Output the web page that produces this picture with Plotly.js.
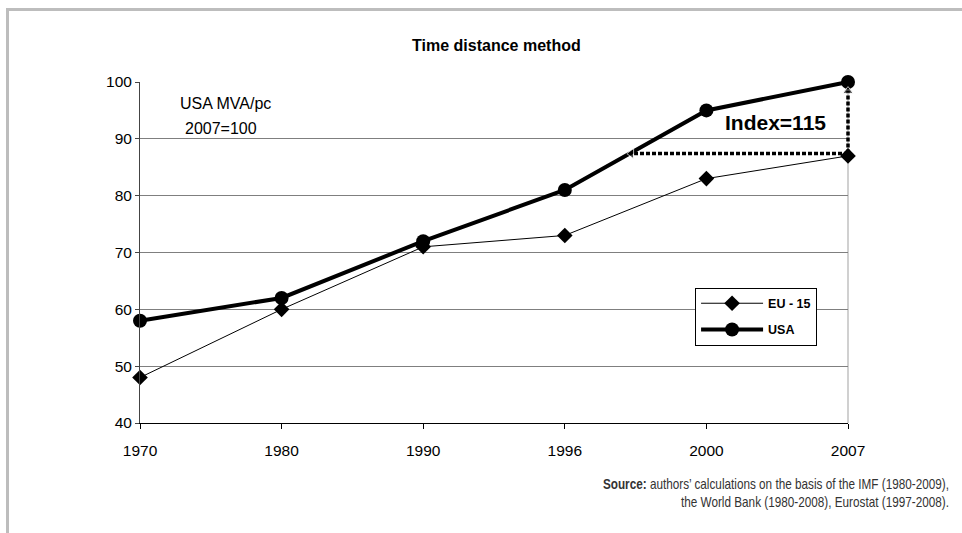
<!DOCTYPE html>
<html>
<head>
<meta charset="utf-8">
<script src="https://cdn.plot.ly/plotly-3.0.1.min.js"></script>
<style>
  html, body { margin: 0; padding: 0; background: #fff; }
  #wrap { position: relative; width: 962px; height: 533px; overflow: hidden; }
  #frame { position: absolute; left: 6px; top: 8px; right: 0; bottom: 0;
           border-top: 3px solid #bdbdbd; border-left: 3px solid #bdbdbd; }
  #chart { position: absolute; left: 0; top: 0; width: 962px; height: 533px; }
</style>
</head>
<body>
<div id="wrap">
  <div id="frame"></div>
  <div id="chart"></div>
</div>
<script>
// ---- data ----
const years = ["1970", "1980", "1990", "1996", "2000", "2007"];
const eu15  = [48, 60, 71, 73, 83, 87];
const usa   = [58, 62, 72, 81, 95, 100];
const yTicks = [40, 50, 60, 70, 80, 90, 100];
// time-distance construction: EU-15 level in 2007 reached by USA between 1996 and 2000
const indexValue = 115;
const crossLevel = 87.4;   // level of horizontal dotted arrow
const crossPos = 3.47;     // category position where USA reached that level

const idx = years.map((_, i) => i);
const FONT = "Arial, 'Liberation Sans', sans-serif";

const traces = [
  {
    x: idx, y: eu15, name: "EU - 15", mode: "lines+markers", legendgroup: "a",
    line: { color: "#000", width: 1 },
    marker: { symbol: "diamond", size: 12, color: "#000" },
    cliponaxis: false
  },
  {
    x: idx, y: usa, name: "USA", mode: "lines+markers", legendgroup: "b",
    line: { color: "#000", width: 4 },
    marker: { symbol: "circle", size: 14, color: "#000" },
    cliponaxis: false
  },
  {
    x: [idx[5], crossPos], y: [crossLevel, crossLevel], mode: "lines+markers",
    line: { color: "#000", width: 3.5, dash: "4px,2px" },
    marker: { symbol: ["circle", "triangle-left"], size: [0, 9], color: "#000" },
    showlegend: false, hoverinfo: "skip", cliponaxis: false
  },
  {
    x: [idx[5], idx[5]], y: [crossLevel, usa[5] - 1.6], mode: "lines+markers",
    line: { color: "#000", width: 3.5, dash: "4px,2px" },
    marker: { symbol: ["circle", "triangle-up"], size: [0, 9], color: "#000" },
    showlegend: false, hoverinfo: "skip", cliponaxis: false
  }
];

const layout = {
  width: 962, height: 533,
  margin: { l: 140, r: 114, t: 82, b: 110 },
  paper_bgcolor: "rgba(0,0,0,0)",
  plot_bgcolor: "#fff",
  showlegend: true,
  font: { family: FONT, color: "#000", size: 15.5 },
  title: {
    text: "<b>Time distance method</b>",
    font: { family: FONT, size: 16, color: "#000" },
    x: 0.516, xanchor: "center", y: 0.914, yanchor: "middle"
  },
  xaxis: {
    range: [0, 5], tickmode: "array", tickvals: idx, ticktext: years,
    showgrid: false, zeroline: false, showline: true, linecolor: "#000", linewidth: 1,
    ticks: "outside", ticklen: 5, tickcolor: "#000",
    ticklabelstandoff: 8,
    tickfont: { family: FONT, size: 15.5, color: "#000" }
  },
  yaxis: {
    range: [40, 100], tickmode: "array", tickvals: yTicks,
    showgrid: true, gridcolor: "#7f7f7f", gridwidth: 1,
    zeroline: false, showline: true, linecolor: "#444", linewidth: 1,
    ticks: "outside", ticklen: 4, tickcolor: "#444",
    tickfont: { family: FONT, size: 15.5, color: "#000" }
  },
  legend: {
    x: 0.784, y: 0.397, xanchor: "left", yanchor: "top",
    bgcolor: "#fff", bordercolor: "#000", borderwidth: 1,
    font: { family: FONT, size: 12.5, color: "#000", weight: "bold" },
    traceorder: "grouped", tracegroupgap: 7, itemwidth: 62
  },
  shapes: [
    { type: "line", xref: "paper", yref: "paper", x0: 1, x1: 1, y0: 0, y1: 1,
      layer: "below", line: { color: "#c0c0c0", width: 1.5 } }
  ],
  annotations: [
    { text: "USA MVA/pc", xref: "paper", yref: "paper", x: 0.054, y: 0.938,
      xanchor: "left", yanchor: "middle", showarrow: false,
      font: { family: FONT, size: 16, color: "#000" } },
    { text: "2007=100", xref: "paper", yref: "paper", x: 0.061, y: 0.865,
      xanchor: "left", yanchor: "middle", showarrow: false,
      font: { family: FONT, size: 16, color: "#000" } },
    { text: "<b>Index=" + indexValue + "</b>", xref: "paper", yref: "paper", x: 0.823, y: 0.88,
      xanchor: "left", yanchor: "middle", showarrow: false,
      font: { family: FONT, size: 21, color: "#000" } },
    { text: "<b>Source:</b> authors’ calculations on the basis of the IMF (1980-2009),<br>the World Bank (1980-2008), Eurostat (1997-2008).",
      xref: "paper", yref: "paper", x: 1.146, y: -0.15, align: "right",
      xanchor: "right", yanchor: "top", showarrow: false,
      font: { family: FONT, size: 14, color: "#333" } }
  ]
};

const gdEl = document.getElementById("chart");

function unclip() {
  // let the dotted arrow on the 2007 edge show at full width (not clipped by the plot area)
  gdEl.querySelectorAll(".scatterlayer [clip-path], .scatterlayer").forEach(p => {
    p.removeAttribute("clip-path");
    p.style.clipPath = "none";
  });
}
function narrowSource() {
  // narrow the source note horizontally (Arial Narrow look), anchored at its right edge
  const anns = gdEl.querySelectorAll(".annotation");
  const src = anns[anns.length - 1];
  if (src && !src.dataset.narrowed) {
    const bb = src.getBBox();
    const rx = bb.x + bb.width;
    src.setAttribute("transform", `translate(${rx},0) scale(0.84,1) translate(${-rx},0)`);
    src.dataset.narrowed = "1";
  }
}
function post() { unclip(); narrowSource(); }

Plotly.newPlot(gdEl, traces, layout, { displayModeBar: false, staticPlot: true }).then(() => {
  post();
  gdEl.on && gdEl.on("plotly_afterplot", post);
  [0, 50, 200, 600].forEach(t => setTimeout(post, t));
  new MutationObserver(unclip).observe(gdEl, { subtree: true, attributes: true, attributeFilter: ["clip-path"] });
});
</script>
</body>
</html>
